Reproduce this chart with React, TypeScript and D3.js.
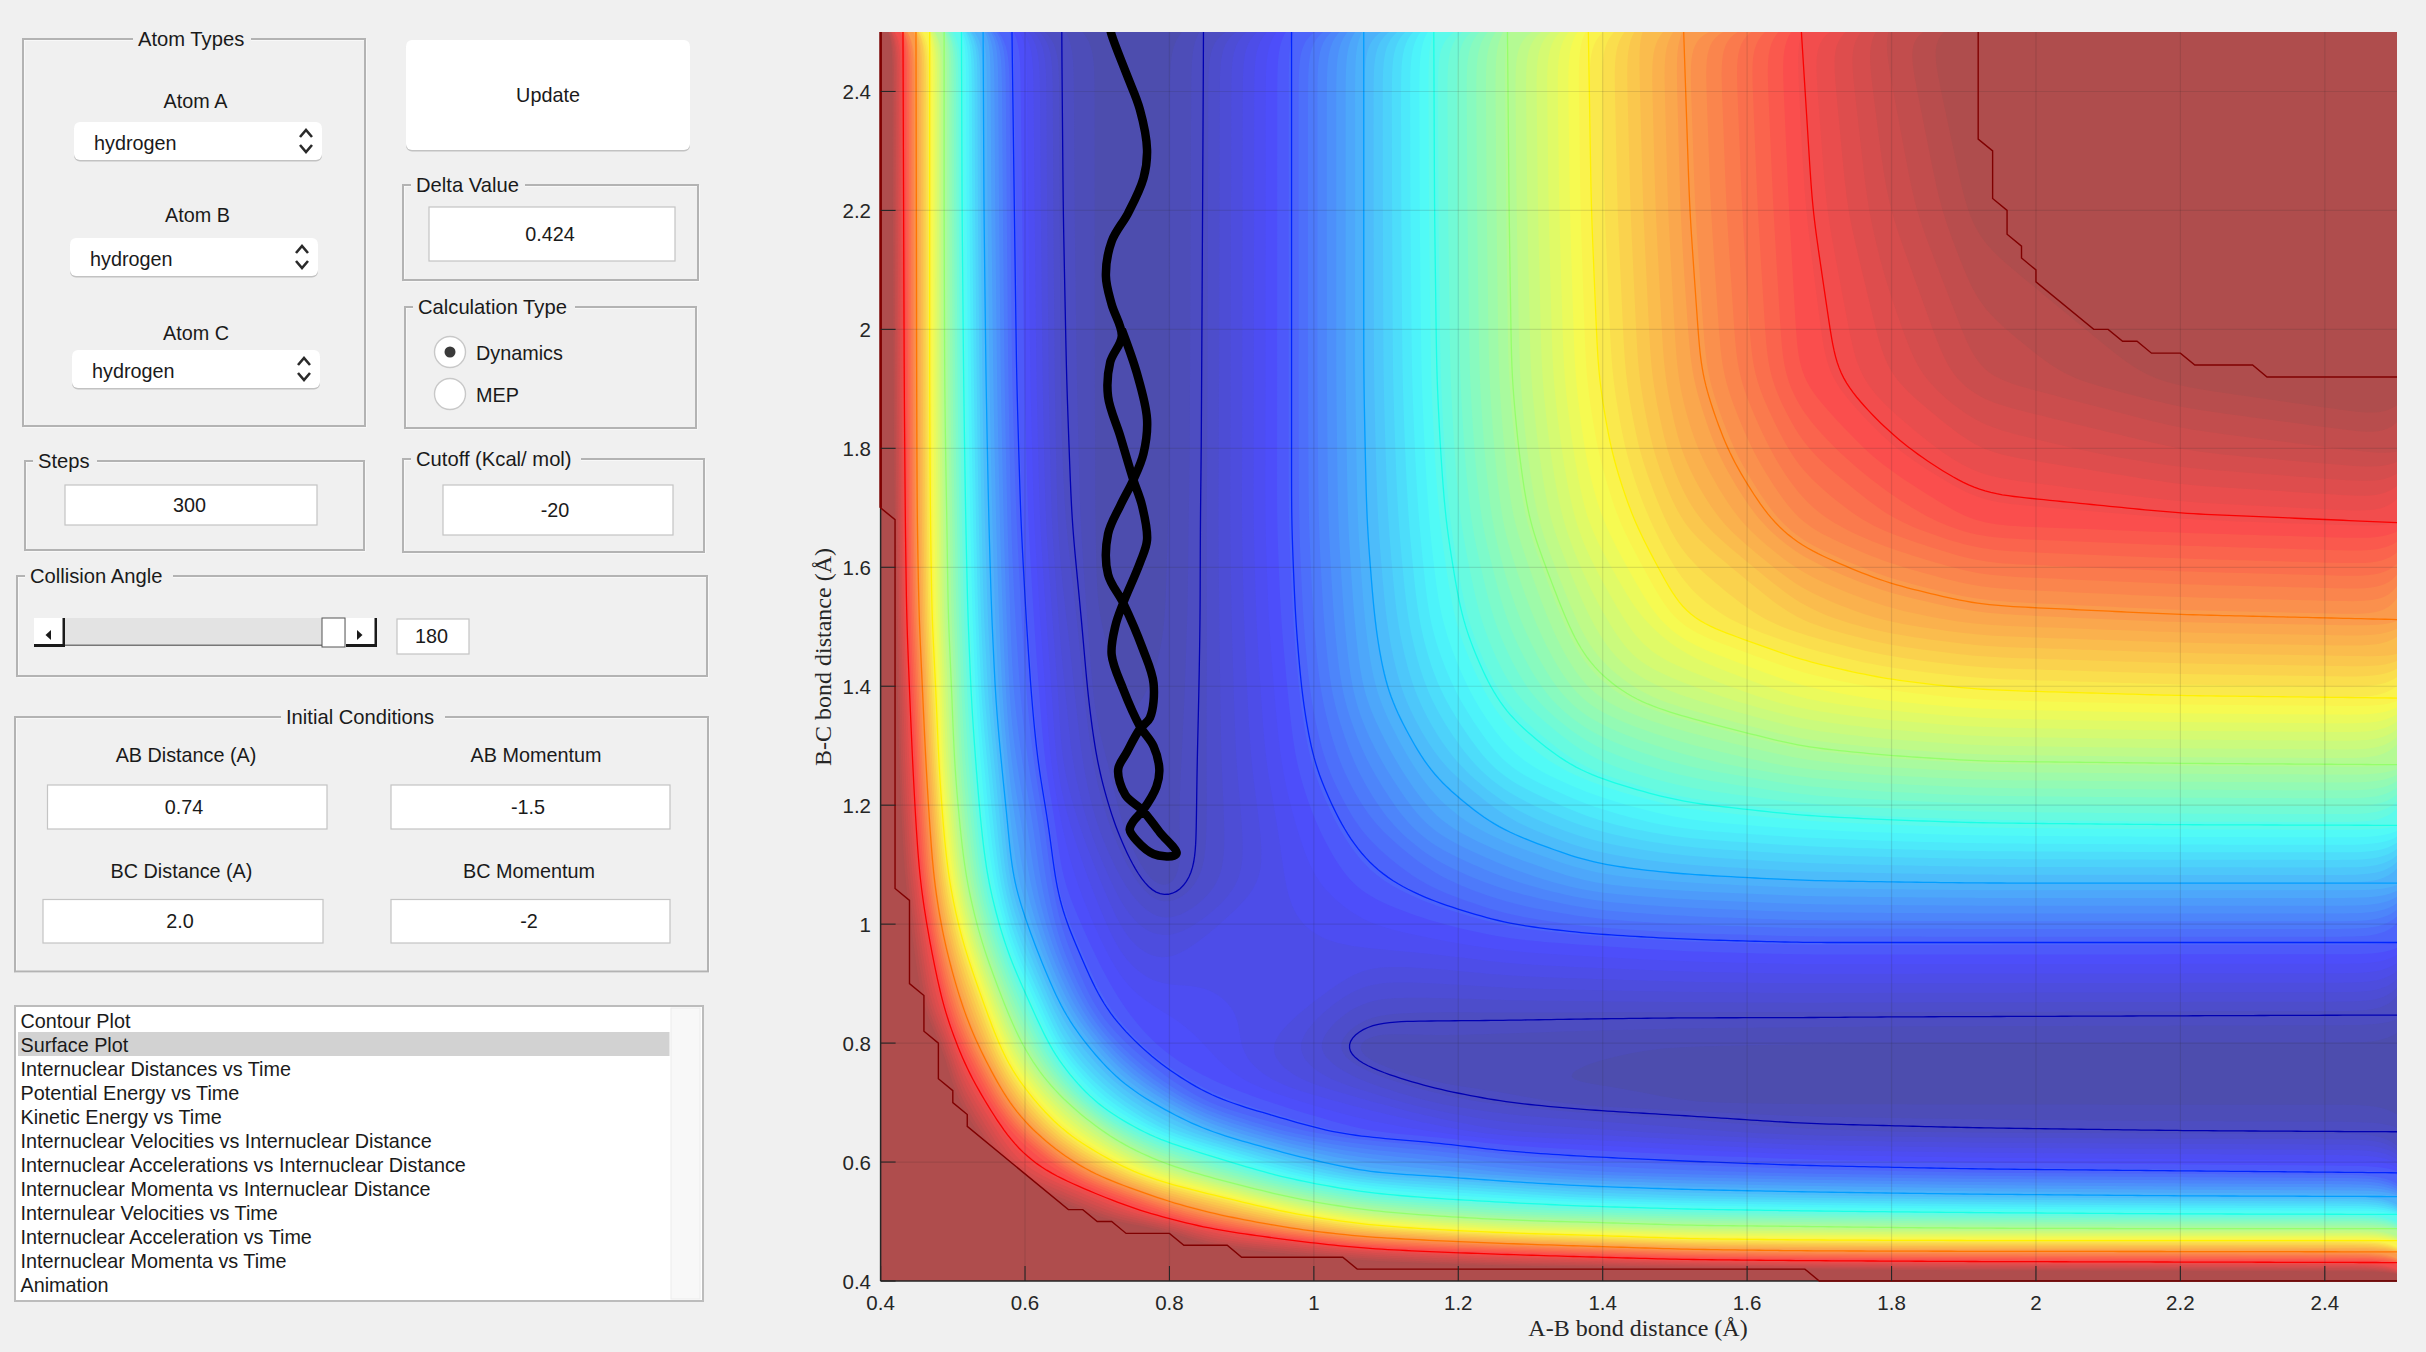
import { useMemo } from "react";
import * as d3 from "d3";

// Tick labels of the plot
const xTicks = [0.4, 0.6, 0.8, 1, 1.2, 1.4, 1.6, 1.8, 2, 2.2, 2.4];
const yTicks = [0.4, 0.6, 0.8, 1, 1.2, 1.4, 1.6, 1.8, 2, 2.2, 2.4];

const energyNodes = [
  0.4, 0.414, 0.431, 0.449, 0.468, 0.488, 0.512, 0.542, 0.582, 0.651, 0.7, 0.74, 0.79,
  0.847, 0.969, 1.069, 1.166, 1.268, 1.38, 1.45, 1.512, 1.675, 1.79, 1.92, 2.2, 2.5,
];

// Surface height in contour steps (0 = innermost blue line, 8 = cut off).
// The surface is symmetric so only the lower triangle is kept.
const energyRows = [
  [9.5],
  [9.5, 9.5],
  [9.5, 9.5, 9.5],
  [9.5, 9.5, 9.5, 9.5],
  [9.5, 9.5, 9.5, 9.5, 9.5],
  [9.5, 9.5, 9.5, 9.5, 9.5, 9.2],
  [9.5, 9.5, 9.5, 9.5, 9.5, 9.2, 9],
  [9.5, 9.5, 9.5, 9.5, 9.2, 9, 9, 8.6],
  [9.5, 9.5, 9.5, 9.5, 9.2, 9, 9, 8.5, 7.5],
  [9.5, 9.5, 9.5, 9.2, 9, 8.8, 8.4, 7.7, 6.75, 5],
  [9.5, 9.5, 9.5, 9.5, 8.8, 8.3, 7.75, 7.1, 5.8, 4.15, 2.85],
  [9.5, 9.5, 9.5, 8.8, 8.5, 8.1, 7.3, 6.64, 5.15, 3.3, 2.37, 1.8],
  [9.5, 9.5, 9.5, 9.2, 8.6, 7.95, 6.85, 5.8, 4.45, 2.55, 1.85, 1.15, 0.8],
  [9.5, 9, 8.6, 8.2, 7.6, 7.05, 6.15, 5.24, 3.83, 2.06, 1.1, 0.85, 0.72, 0.68],
  [9.5, 8.8, 8.3, 7.75, 7, 6, 5.05, 3.9, 2.65, 1.15, 0.75, 0.45, 0.3, 0.47, 0.55],
  [9.5, 8.7, 8, 7.3, 6.3, 5.3, 4.25, 3.2, 2.03, 0.85, 0.5, 0.14, -0.2, 0.05, 0.62, 0.9],
  [9.5, 8.6, 7.8, 7, 6, 4.93, 3.9, 2.9, 1.85, 0.7, 0.17, -0.12, -0.14, 0.03, 0.68, 1.15, 1.7],
  [9.5, 8.5, 7.6, 6.8, 5.7, 4.6, 3.6, 2.7, 1.6, 0.45, 0, -0.18, -0.16, 0.03, 0.8, 1.45, 2.08, 2.7],
  [9.5, 8.4, 7.5, 6.55, 5.45, 4.45, 3.45, 2.45, 1.4, 0.38, -0.13, -0.22, -0.19, 0.025, 0.87, 1.75, 2.45, 3.11, 3.8],
  [9.5, 8.35, 7.4, 6.4, 5.3, 4.33, 3.38, 2.38, 1.35, 0.31, -0.17, -0.24, -0.2, 0.022, 0.91, 1.82, 2.6, 3.3, 4.05, 4.43],
  [9.5, 8.3, 7.3, 6.25, 5.15, 4.22, 3.3, 2.3, 1.3, 0.25, -0.2, -0.26, -0.22, 0.02, 0.95, 1.87, 2.72, 3.46, 4.21, 4.6, 4.98],
  [9.5, 8.2, 7.2, 6.1, 5.05, 4.15, 3.2, 2.2, 1.2, 0.09, -0.22, -0.29, -0.24, 0.02, 1, 1.96, 2.85, 3.77, 4.63, 5.04, 5.42, 6.2],
  [9.5, 8.15, 7.15, 6.07, 5.02, 4.08, 3.15, 2.15, 1.15, 0.06, -0.22, -0.3, -0.25, 0.015, 1, 1.98, 2.91, 3.87, 4.78, 5.26, 5.68, 6.52, 6.9],
  [9.5, 8.1, 7.1, 6.05, 5, 4.03, 3.1, 2.1, 1.1, 0.035, -0.22, -0.31, -0.25, 0.012, 1, 2, 2.96, 3.95, 4.9, 5.4, 5.85, 6.85, 7.2, 7.6],
  [9.5, 8.05, 7.05, 6.03, 5, 4, 3.03, 2.03, 1.05, 0.01, -0.22, -0.33, -0.25, 0.006, 1, 2, 2.99, 3.98, 4.97, 5.48, 5.95, 6.93, 7.45, 7.93, 8.4],
  [9.5, 8, 7, 6, 5, 4, 3, 2, 1, 0, -0.22, -0.33, -0.25, 0, 1, 2, 3, 4, 5, 5.53, 6, 7, 7.62, 8.15, 8.5, 8.8],
];

const contourLevels = [0, 1, 2, 3, 4, 5, 6, 7];

// Stepped edges of the clipped regions
const wallCutX = [0.4, 0.4, 0.42, 0.42, 0.44, 0.44, 0.46, 0.46, 0.48, 0.48, 0.5, 0.5, 0.52, 0.52, 0.66, 0.68, 0.7, 0.72, 0.74, 0.8, 0.82, 0.88, 0.9, 1.04, 1.06, 1.68, 1.7, 2.5];
const wallCutY = [2.5, 1.7, 1.68, 1.06, 1.04, 0.9, 0.88, 0.82, 0.8, 0.74, 0.72, 0.7, 0.68, 0.66, 0.52, 0.52, 0.5, 0.5, 0.48, 0.48, 0.46, 0.46, 0.44, 0.44, 0.42, 0.42, 0.4, 0.4];
const plateauCutX = [1.92, 1.92, 1.94, 1.94, 1.96, 1.96, 1.98, 1.98, 2, 2, 2.08, 2.1, 2.12, 2.14, 2.16, 2.2, 2.22, 2.3, 2.32, 2.5];
const plateauCutY = [2.5, 2.32, 2.3, 2.22, 2.2, 2.16, 2.14, 2.12, 2.1, 2.08, 2, 2, 1.98, 1.98, 1.96, 1.96, 1.94, 1.94, 1.92, 1.92];

// Trajectory
const trajX = [0.734, 0.755, 0.769, 0.764, 0.75, 0.732, 0.715, 0.715, 0.736, 0.763, 0.778, 0.773, 0.759, 0.741, 0.729, 0.739, 0.763, 0.787, 0.81, 0.806, 0.778, 0.755, 0.745, 0.75, 0.763, 0.782, 0.786, 0.778, 0.759, 0.736, 0.72, 0.725, 0.736, 0.759, 0.769, 0.762, 0.75, 0.732, 0.715, 0.718, 0.734, 0.72, 0.712, 0.72, 0.743, 0.764, 0.769, 0.759, 0.741, 0.72, 0.715];
const trajY = [2, 1.926, 1.849, 1.791, 1.747, 1.704, 1.656, 1.588, 1.54, 1.463, 1.405, 1.347, 1.328, 1.289, 1.26, 1.217, 1.191, 1.154, 1.12, 1.115, 1.118, 1.14, 1.159, 1.173, 1.191, 1.231, 1.26, 1.299, 1.333, 1.395, 1.453, 1.501, 1.54, 1.607, 1.646, 1.704, 1.747, 1.82, 1.887, 1.945, 1.989, 2.042, 2.09, 2.148, 2.196, 2.254, 2.302, 2.37, 2.428, 2.495, 2.52];

const plotOptions = [
  "Contour Plot",
  "Surface Plot",
  "Internuclear Distances vs Time",
  "Potential Energy vs Time",
  "Kinetic Energy vs Time",
  "Internuclear Velocities vs Internuclear Distance",
  "Internuclear Accelerations vs Internuclear Distance",
  "Internuclear Momenta vs Internuclear Distance",
  "Internulear Velocities vs Time",
  "Internuclear Acceleration vs Time",
  "Internuclear Momenta vs Time",
  "Animation",
];

const jetStops = [0, 0.125, 0.375, 0.625, 0.875, 1];
const jetColors = ["rgb(0,0,143)", "rgb(0,0,255)", "rgb(0,255,255)", "rgb(255,255,0)", "rgb(255,0,0)", "rgb(144,0,0)"];

const BG = "#f0f0f0";
const FONT = "'Liberation Sans', Arial, sans-serif";
const SERIF = "'Liberation Serif', serif";
const INK = "#262626";

const left = 880.6;
const right = 2397;
const top = 32;
const bottom = 1281;

const xScale = d3.scaleLinear().domain([0.4, 2.5]).range([left, right]);
const yScale = d3.scaleLinear().domain([0.4, 2.5]).range([bottom, top]);

const jet = d3.scaleLinear<string>().domain(jetStops).range(jetColors).interpolate(d3.interpolateRgb);
const surfaceColor = (t: number) => d3.interpolateRgb(BG, jet(t))(0.68);
const levelToT = (level: number) => 0.04 + 0.12 * level;

type Pt = [number, number];

// Contour vertices only sit on the grid lines, so the corners come out polygonal.
// Walk the ring at an even pitch and round the corners off.
function roundOff(pts: Pt[], isClosed: boolean, passes = 30, pitch = 6): Pt[] {
  const src = isClosed ? [...pts, pts[0]] : pts;
  const out: Pt[] = [];
  let carry = 0;
  for (let i = 0; i < src.length - 1; i++) {
    const [x0, y0] = src[i];
    const [x1, y1] = src[i + 1];
    const len = Math.hypot(x1 - x0, y1 - y0);
    if (len < 1e-6) continue;
    let s = carry;
    while (s < len) {
      out.push([x0 + ((x1 - x0) * s) / len, y0 + ((y1 - y0) * s) / len]);
      s += pitch;
    }
    carry = s - len;
  }
  if (!isClosed) out.push(src[src.length - 1]);
  const m = out.length;
  if (m < 4) return pts;
  let cur = out;
  for (let p = 0; p < passes; p++) {
    const next: Pt[] = cur.map((q) => [q[0], q[1]]);
    for (let i = 0; i < m; i++) {
      if (!isClosed && (i === 0 || i === m - 1)) continue;
      const a = cur[(i - 1 + m) % m];
      const b = cur[(i + 1) % m];
      next[i] = [(a[0] + 2 * cur[i][0] + b[0]) / 4, (a[1] + 2 * cur[i][1] + b[1]) / 4];
    }
    cur = next;
  }
  return cur;
}

function buildSurface() {
  const n = energyNodes.length;
  const values = new Array(n * n);
  for (let j = 0; j < n; j++) {
    for (let i = 0; i < n; i++) {
      values[j * n + i] = energyRows[Math.max(i, j)][Math.min(i, j)];
    }
  }
  // contour coordinates: sample i sits at i + 0.5, the border goes a bit past the plot
  const gridToData = d3
    .scaleLinear()
    .domain([0, ...energyNodes.map((_, i) => i + 0.5), n])
    .range([0.37, ...energyNodes, 2.53]);
  const toPx = (p: number[]): Pt => [xScale(gridToData(p[0])), yScale(gridToData(p[1]))];

  const contours = d3.contours().size([n, n]).smooth(true);
  const pathOf = d3.line();

  const bands = d3.range(64).map((k) => {
    const edge = (k / 64 - 0.04) / 0.12;
    const geo = contours.contour(values, edge);
    const d = geo.coordinates
      .flat()
      .map((ring: number[][]) => pathOf(roundOff(ring.slice(0, -1).map(toPx), true)) + "Z")
      .join("");
    return { k, d, fill: surfaceColor(k / 63) };
  });

  const inside = (p: Pt) => p[0] >= left - 0.01 && p[0] <= right + 0.01 && p[1] >= top - 0.01 && p[1] <= bottom + 0.01;

  const lines = contourLevels.map((level) => {
    const geo = contours.contour(values, level + 0.001);
    const paths: string[] = [];
    geo.coordinates.flat().forEach((ring: number[][]) => {
      const pts = ring.slice(0, -1).map(toPx);
      // start the walk on a border point so that each run stays in one piece
      const start = pts.findIndex((p) => !inside(p));
      const walk = start < 0 ? pts : [...pts.slice(start), ...pts.slice(0, start)];
      let run: Pt[] = [];
      walk.forEach((p) => {
        if (inside(p)) run.push(p);
        else {
          if (run.length > 1) paths.push(pathOf(roundOff(run, false)) as string);
          run = [];
        }
      });
      if (run.length > 1) paths.push(pathOf(roundOff(run, start < 0)) as string);
    });
    return { level, d: paths.join(""), stroke: jet(levelToT(level)) };
  });
  return { bands, lines };
}

function zipPath(xs: number[], ys: number[], extra: Pt[] = []) {
  const pts: Pt[] = xs.map((x, i) => [xScale(x), yScale(ys[i])] as Pt).concat(extra.map((p) => [xScale(p[0]), yScale(p[1])] as Pt));
  return d3.line()(pts) as string;
}

function Label({ x, y, anchor = "middle", size = 19.8, children }: any) {
  return (
    <text x={x} y={y} textAnchor={anchor} dominantBaseline="central" fontFamily={FONT} fontSize={size} fill="#1a1a1a">
      {children}
    </text>
  );
}

// etched group box with the title cut into the top edge
function Frame({ x0, y0, x1, y1, title, titleX, titleWidth }: any) {
  return (
    <g>
      <rect x={x0 + 1} y={y0 + 1} width={x1 - x0} height={y1 - y0} fill="none" stroke="#ffffff" strokeWidth={1} />
      <rect x={x0} y={y0} width={x1 - x0} height={y1 - y0} fill="none" stroke="#b3b3b3" strokeWidth={2} />
      <rect x={titleX - 5} y={y0 - 4} width={titleWidth + 10} height={8} fill={BG} />
      <Label x={titleX} y={y0} size={20.2} anchor="start">
        {title}
      </Label>
    </g>
  );
}

function EditBox({ x0, y0, x1, y1, value, valueX }: any) {
  return (
    <g>
      <rect x={x0} y={y0} width={x1 - x0} height={y1 - y0} fill="#ffffff" stroke="#c4c4c4" strokeWidth={1.2} />
      <Label x={valueX ?? (x0 + x1) / 2} y={(y0 + y1) / 2 - 0.5}>
        {value}
      </Label>
    </g>
  );
}

function Popup({ x0, y0, x1, y1, textX }: any) {
  const cx = x1 - 16;
  const cy = (y0 + y1) / 2;
  return (
    <g>
      <rect x={x0} y={y0 + 1.5} width={x1 - x0} height={y1 - y0} rx={6} fill="#c2c2c2" />
      <rect x={x0} y={y0} width={x1 - x0} height={y1 - y0} rx={6} fill="#ffffff" />
      <Label x={textX} y={cy + 1.7} anchor="start">
        hydrogen
      </Label>
      <path
        d={`M${cx - 6},${cy - 4} L${cx},${cy - 11} L${cx + 6},${cy - 4} M${cx - 6},${cy + 4} L${cx},${cy + 11} L${cx + 6},${cy + 4}`}
        fill="none"
        stroke="#2a2a2a"
        strokeWidth={2.6}
      />
    </g>
  );
}

function ControlPanel() {
  return (
    <g>
      <Frame x0={23} y0={39} x1={365} y1={426} title="Atom Types" titleX={138} titleWidth={108} />
      <Label x={195.5} y={101}>Atom A</Label>
      <Popup x0={74} y0={122} x1={322} y1={160} textX={94} />
      <Label x={197.5} y={215}>Atom B</Label>
      <Popup x0={70} y0={238} x1={318} y1={276} textX={90} />
      <Label x={196} y={333}>Atom C</Label>
      <Popup x0={72} y0={350} x1={320} y1={388} textX={92} />

      <rect x={406} y={41.5} width={284} height={110} rx={6} fill="#c2c2c2" />
      <rect x={406} y={40} width={284} height={110} rx={6} fill="#ffffff" />
      <Label x={548} y={95}>Update</Label>

      <Frame x0={403} y0={185} x1={698} y1={280} title="Delta Value" titleX={416} titleWidth={104} />
      <EditBox x0={429} y0={207} x1={675} y1={261} value="0.424" valueX={550} />

      <Frame x0={405} y0={307} x1={696} y1={428} title="Calculation Type" titleX={418} titleWidth={152} />
      <circle cx={450} cy={352} r={15.5} fill="#ffffff" stroke="#c8c8c8" strokeWidth={1.4} />
      <circle cx={450} cy={352} r={5.5} fill="#3a3a3a" />
      <Label x={476} y={353} anchor="start">Dynamics</Label>
      <circle cx={450} cy={394} r={15.5} fill="#ffffff" stroke="#c8c8c8" strokeWidth={1.4} />
      <Label x={476} y={395} anchor="start">MEP</Label>

      <Frame x0={25} y0={461} x1={364} y1={550} title="Steps" titleX={38} titleWidth={54} />
      <EditBox x0={65} y0={485} x1={317} y1={525} value="300" valueX={189.5} />

      <Frame x0={403} y0={459} x1={704} y1={552} title="Cutoff (Kcal/ mol)" titleX={416} titleWidth={160} />
      <EditBox x0={443} y0={485} x1={673} y1={535} value="-20" valueX={555} />

      <Frame x0={17} y0={576} x1={707} y1={676} title="Collision Angle" titleX={30} titleWidth={138} />
      <rect x={64} y={618} width={258} height={28} fill="#e3e3e3" />
      <rect x={64} y={644.5} width={258} height={1.5} fill="#777777" />
      <rect x={34} y={618} width={30} height={26} fill="#ffffff" />
      <rect x={34} y={644} width={31} height={3} fill="#1a1a1a" />
      <rect x={62.5} y={618} width={2.5} height={28} fill="#1a1a1a" />
      <path d="M51,630 L45.5,635 L51,640 Z" fill="#1a1a1a" />
      <rect x={322} y={618} width={23} height={29} fill="#ffffff" stroke="#555555" strokeWidth={1} />
      <rect x={346} y={618} width={30} height={26} fill="#ffffff" />
      <rect x={346} y={644} width={31} height={3} fill="#1a1a1a" />
      <rect x={374.5} y={618} width={2.5} height={28} fill="#1a1a1a" />
      <path d="M357,630 L362.5,635 L357,640 Z" fill="#1a1a1a" />
      <EditBox x0={397} y0={619} x1={469} y1={654} value="180" valueX={431.5} />

      <Frame x0={15} y0={717} x1={708} y1={971.5} title="Initial Conditions" titleX={286} titleWidth={154} />
      <Label x={186} y={755}>AB Distance (A)</Label>
      <EditBox x0={47.5} y0={785} x1={327} y1={829} value="0.74" valueX={184} />
      <Label x={536} y={755}>AB Momentum</Label>
      <EditBox x0={391} y0={785} x1={670} y1={829} value="-1.5" valueX={528} />
      <Label x={181.5} y={871}>BC Distance (A)</Label>
      <EditBox x0={43} y0={899.5} x1={323} y1={943} value="2.0" valueX={180} />
      <Label x={529} y={871}>BC Momentum</Label>
      <EditBox x0={391} y0={899.5} x1={670} y1={943} value="-2" valueX={529} />

      <rect x={15} y={1006} width={688} height={295} fill="#ffffff" stroke="#bcbcbc" strokeWidth={2} />
      <rect x={671} y={1008} width={29} height={291} fill="#f8f8f8" stroke="#ececec" strokeWidth={1} />
      <rect x={18} y={1032} width={651.5} height={24} fill="#d2d2d2" />
      {plotOptions.map((name, i) => (
        <Label key={name} x={20.5} y={1021 + i * 24} anchor="start">
          {name}
        </Label>
      ))}
    </g>
  );
}

export default function App() {
  const { bands, lines } = useMemo(buildSurface, []);
  const capFill = surfaceColor(1);
  const wallLine = zipPath(wallCutX, wallCutY);
  const plateauLine = zipPath(plateauCutX, plateauCutY);
  const wallArea = zipPath(wallCutX, wallCutY, [[0.4, 0.4]]) + "Z";
  const plateauArea = zipPath(plateauCutX, plateauCutY, [[2.5, 2.5]]) + "Z";
  const trajPts: Pt[] = trajX.map((x, i) => [xScale(x), yScale(trajY[i])]);
  const trajPath = d3.line().curve(d3.curveCatmullRom.alpha(0.5))(trajPts) as string;

  return (
    <svg
      width={2426}
      height={1352}
      viewBox="0 0 2426 1352"
      style={{ position: "absolute", left: 0, top: 0, display: "block" }}
    >
      <rect width={2426} height={1352} fill={BG} />
      <ControlPanel />

      <defs>
        <clipPath id="plot-clip">
          <rect x={left} y={top} width={right - left} height={bottom - top} />
        </clipPath>
      </defs>

      <g clipPath="url(#plot-clip)">
        <rect x={left} y={top} width={right - left} height={bottom - top} fill={surfaceColor(0)} />
        {bands.map((b) => (
          <path key={b.k} d={b.d} fill={b.fill} fillRule="evenodd" />
        ))}
        <path d={wallArea} fill={capFill} />
        <path d={plateauArea} fill={capFill} />
        {lines.map((l) => (
          <path key={l.level} d={l.d} fill="none" stroke={l.stroke} strokeWidth={1.3} />
        ))}
        {xTicks.map((t) => (
          <line key={t} x1={xScale(t)} x2={xScale(t)} y1={top} y2={bottom} stroke={INK} strokeOpacity={0.13} strokeWidth={1.2} />
        ))}
        {yTicks.map((t) => (
          <line key={t} x1={left} x2={right} y1={yScale(t)} y2={yScale(t)} stroke={INK} strokeOpacity={0.13} strokeWidth={1.2} />
        ))}
        <path d={trajPath} fill="none" stroke="#000000" strokeWidth={8.5} strokeLinejoin="round" />
      </g>

      {/* axes */}
      <line x1={left} x2={left} y1={top} y2={bottom} stroke={INK} strokeWidth={1.5} />
      <line x1={left} x2={right} y1={bottom} y2={bottom} stroke={INK} strokeWidth={1.5} />
      <path d={wallLine} fill="none" stroke="#800000" strokeWidth={1.4} />
      <path d={plateauLine} fill="none" stroke="#800000" strokeWidth={1.4} clipPath="url(#plot-clip)" />
      <line x1={left} x2={left} y1={top} y2={yScale(1.7)} stroke="#800000" strokeWidth={2.5} />

      {xTicks.map((t) => (
        <g key={t}>
          <line x1={xScale(t)} x2={xScale(t)} y1={bottom} y2={bottom - 15} stroke={INK} strokeWidth={1.1} />
          <text x={xScale(t)} y={1302} textAnchor="middle" dominantBaseline="central" fontFamily={FONT} fontSize={20.5} fill={INK}>
            {t}
          </text>
        </g>
      ))}
      {yTicks.map((t) => (
        <g key={t}>
          <line x1={left} x2={left + 15} y1={yScale(t)} y2={yScale(t)} stroke={INK} strokeWidth={1.1} />
          <text x={871} y={yScale(t)} textAnchor="end" dominantBaseline="central" fontFamily={FONT} fontSize={20.5} fill={INK}>
            {t}
          </text>
        </g>
      ))}

      <text x={1638} y={1328} textAnchor="middle" dominantBaseline="central" fontFamily={SERIF} fontSize={24} fill={INK}>
        A-B bond distance (Å)
      </text>
      <text
        transform={`translate(823,657) rotate(-90)`}
        textAnchor="middle"
        dominantBaseline="central"
        fontFamily={SERIF}
        fontSize={24}
        fill={INK}
      >
        B-C bond distance (Å)
      </text>
    </svg>
  );
}
